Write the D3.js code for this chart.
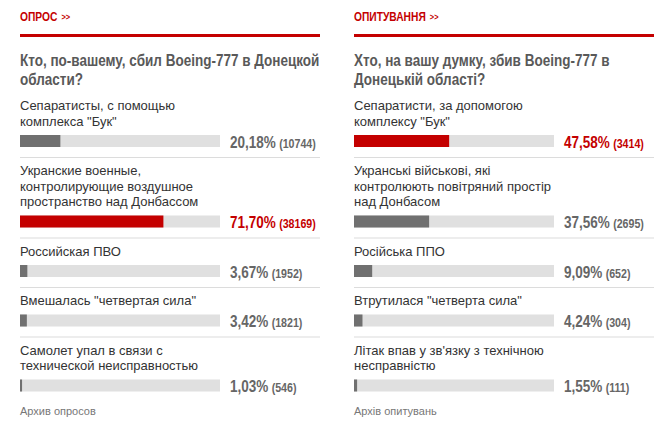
<!DOCTYPE html>
<html>
<head>
<meta charset="utf-8">
<script src="https://cdn.jsdelivr.net/npm/d3@7"></script>
<style>
  body { margin: 0; background: #fff; }
  .narrow { font-family: "Liberation Sans", Arial, sans-serif; font-weight: bold; }
  .lbl { font-family: "Liberation Sans", Arial, sans-serif; font-size: 13px; fill: #333; }
</style>
</head>
<body>
<div id="chart"></div>
<script>
var svgWidth = 672;
var svgHeight = 435;

// left poll (russian)
var ruHeader = "ОПРОС";
var ruTitle = ["Кто, по-вашему, сбил Boeing-777 в Донецкой", "области?"];
var ruLabels = [
  ["Сепаратисты, с помощью", "комплекса \"Бук\""],
  ["Укранские военные,", "контролирующие воздушное", "пространство над Донбассом"],
  ["Российская ПВО"],
  ["Вмешалась \"четвертая сила\""],
  ["Самолет упал в связи с", "технической неисправностью"]
];
var ruPct = [20.18, 71.70, 3.67, 3.42, 1.03];
var ruVotes = [10744, 38169, 1952, 1821, 546];
var ruArchive = "Архив опросов";

// right poll (ukrainian)
var uaHeader = "ОПИТУВАННЯ";
var uaTitle = ["Хто, на вашу думку, збив Boeing-777 в", "Донецькій області?"];
var uaLabels = [
  ["Сепаратисти, за допомогою", "комплексу \"Бук\""],
  ["Укранські військові, які", "контролюють повітряний простір", "над Донбасом"],
  ["Російська ППО"],
  ["Втрутилася \"четверта сила\""],
  ["Літак впав у зв'язку з технічною", "несправністю"]
];
var uaPct = [47.58, 37.56, 9.09, 4.24, 1.55];
var uaVotes = [3414, 2695, 652, 304, 111];
var uaArchive = "Архів опитувань";

var red = "#c40000";
var grey = "#707070";
var squeeze = 0.82; // no narrow face installed, so squash the bold one

var svg = d3.select("#chart")
  .append("svg")
  .attr("width", svgWidth)
  .attr("height", svgHeight);

var barWidth = 200;
var x = d3.scaleLinear().domain([0, 100]).range([0, barWidth]);

// vertical rhythm of one answer block
var lineH = 15.5, sepToText = 17.5, textToBar = 9.5, barH = 12, barToSep = 10.5;

function narrow(g, px, py, size, fill, sx) {
  return g.append("text")
    .attr("class", "narrow")
    .attr("transform", `translate(${px}, ${py}) scale(${sx || squeeze}, 1)`)
    .attr("fill", fill)
    .style("font-size", size + "px");
}

function drawPoll(left, header, title, labels, pct, votes, archive) {
  var g = svg.append("g").attr("transform", `translate(${left}, 0)`);
  var maxPct = d3.max(pct);

  var h = narrow(g, 0, 21, 12.5, red).text(header);
  h.append("tspan")
    .style("font-size", "9px")
    .attr("dx", 5)
    .attr("dy", -1)
    .text(">>");

  g.append("rect")
    .attr("x", 0).attr("y", 34)
    .attr("width", 300).attr("height", 3)
    .attr("fill", red);

  narrow(g, 0, 0, 17, "#595959", 0.795)
    .selectAll("tspan")
    .data(title)
    .enter()
    .append("tspan")
    .attr("x", 0)
    .attr("y", (d, i) => 66.5 + i * 19)
    .text(d => d);

  var sep = 92.5;
  labels.forEach(function(lines, i) {
    var base = sep + sepToText;
    g.append("text")
      .attr("class", "lbl")
      .selectAll("tspan")
      .data(lines)
      .enter()
      .append("tspan")
      .attr("x", 0)
      .attr("y", (d, j) => base + j * lineH)
      .text(d => d);

    var barTop = base + (lines.length - 1) * lineH + textToBar;
    var isMax = pct[i] === maxPct;

    g.append("rect")
      .attr("x", 0).attr("y", barTop)
      .attr("width", barWidth).attr("height", barH)
      .attr("fill", "#e0e0e0");
    g.append("rect")
      .attr("x", 0).attr("y", barTop)
      .attr("width", Math.max(2, x(pct[i])))
      .attr("height", barH)
      .attr("fill", isMax ? red : grey);

    var t = narrow(g, barWidth + 10, barTop + 12.5, 16.5, isMax ? red : "#666")
      .text(pct[i].toFixed(2).replace(".", ",") + "%");
    t.append("tspan")
      .style("font-size", "13px")
      .attr("dx", 4)
      .text("(" + votes[i] + ")");

    sep = barTop + barH + barToSep;
    if (i < labels.length - 1) {
      g.append("rect")
        .attr("x", 0).attr("y", sep - 0.5)
        .attr("width", 300).attr("height", 1)
        .attr("fill", "#dcdcdc");
    } else {
      g.append("text")
        .attr("x", 0)
        .attr("y", barTop + barH + 23)
        .attr("fill", "#777")
        .style("font-family", "\"Liberation Sans\", Arial, sans-serif")
        .style("font-size", "11px")
        .text(archive);
    }
  });
}

drawPoll(20, ruHeader, ruTitle, ruLabels, ruPct, ruVotes, ruArchive);
drawPoll(354, uaHeader, uaTitle, uaLabels, uaPct, uaVotes, uaArchive);
</script>
</body>
</html>
